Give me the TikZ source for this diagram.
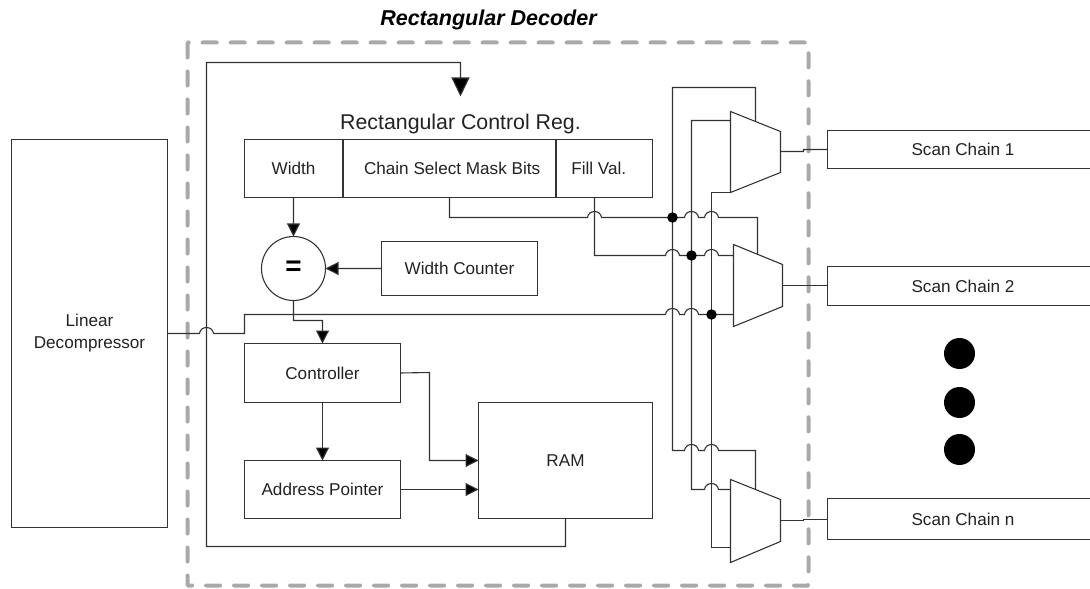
\documentclass[tikz,border=0pt]{standalone}
\usepackage{fontspec}
\setmainfont{Liberation Sans}
\usetikzlibrary{arrows.meta}
\newcommand\bp[2]{-- (#1-7,#2) .. controls (#1-6,#2-8) and (#1+6,#2-8) .. (#1+7,#2)}
\tikzset{
  wire/.style={draw=linec,line width=1.1bp},
  arr/.style={wire,-{Triangle[length=13bp,width=13bp,fill=black]}},
  bigarr/.style={wire,-{Triangle[length=19bp,width=18bp,fill=black]}},
  blk/.style={draw=linec,line width=1.1bp,outer sep=0pt,inner sep=0pt,align=center,anchor=north west,font=\fontsize{17.2}{22}\selectfont,text=textc},
  lbl/.style={inner sep=0pt,align=center,font=\fontsize{17.2}{22}\selectfont,text=textc},
  dot/.style={circle,fill=black,inner sep=0pt,minimum size=10.5bp},
  bigdot/.style={circle,fill=black,inner sep=0pt,minimum size=31bp},
  muxs/.style={draw=linec,line width=1.1bp,line join=miter,fill=white},
}
\definecolor{linec}{HTML}{333333}
\definecolor{textc}{HTML}{222222}
\definecolor{dashc}{HTML}{A9A9A9}
\begin{document}
\begin{tikzpicture}[x=1bp,y=-1bp]
\useasboundingbox (0,0) rectangle (1090,589);
\begin{scope}[shift={(0.5,0.5)}]
% title and frame
\node[lbl,font=\fontsize{21.6}{24}\selectfont\bfseries\itshape,text=black] (title) at (488,19) {Rectangular Decoder};
\draw[dashc,line width=4bp,line cap=round,dash pattern=on 14bp off 14bp,rounded corners=1bp] (187,42) rectangle (808,585);
% boxes
\node[blk,minimum width=156bp,minimum height=388bp] (lin) at (11,139) {Linear\\Decompressor};
\node[lbl,font=\fontsize{21.4}{24}\selectfont] (regt) at (460,123) {Rectangular Control Reg.};
\node[blk,minimum width=98bp,minimum height=58bp] (w) at (244,139) {Width};
\node[blk,minimum width=212bp,minimum height=58bp] (cs) at (342.6,139) {\hspace*{6bp}Chain Select Mask Bits};
\node[blk,minimum width=96.4bp,minimum height=58bp] (fv) at (555.6,139) {Fill Val.\hspace*{11bp}};
\node[circle,draw=linec,line width=1.1bp,outer sep=0pt,minimum size=64bp,inner sep=0pt,font=\fontsize{28}{28}\selectfont\bfseries] (eq) at (293,268) {=};
\node[blk,minimum width=156bp,minimum height=54bp] (wc) at (381,241) {Width Counter};
\node[blk,minimum width=156bp,minimum height=59bp] (ctl) at (244,343) {Controller};
\node[blk,minimum width=156bp,minimum height=58bp] (ap) at (244,460) {Address Pointer};
\node[blk,minimum width=174bp,minimum height=116bp] (ram) at (478,402) {RAM};
\node[blk,minimum width=264bp,minimum height=38bp] (s1) at (827,130) {\hspace*{7bp}Scan Chain 1};
\node[blk,minimum width=264bp,minimum height=39bp] (s2) at (827,266) {\hspace*{7bp}Scan Chain 2};
\node[blk,minimum width=264bp,minimum height=41bp] (sn) at (827,498) {\hspace*{7bp}Scan Chain n};
\node[bigdot] (d1) at (959,353) {};
\node[bigdot] (d2) at (959,402) {};
\node[bigdot] (d3) at (959,449) {};
% mux outlines and their ports
\draw[muxs] (730,111) -- (780,131) -- (780,172) -- (730,192) -- cycle;
\draw[muxs] (733,244) -- (782,264) -- (782,306) -- (733,326) -- cycle;
\draw[muxs] (730,479) -- (780,499) -- (780,541) -- (730,562) -- cycle;
\coordinate (m1a) at (755,121); \coordinate (m1b) at (730,120); \coordinate (m1c) at (730,192); \coordinate (m1o) at (780,151);
\coordinate (m2a) at (757,254); \coordinate (m2b) at (733,255); \coordinate (m2c) at (733,314); \coordinate (m2o) at (782,285);
\coordinate (mna) at (755,489); \coordinate (mnb) at (730,489); \coordinate (mnc) at (730,547); \coordinate (mno) at (780,520);
% arrows between blocks
\draw[bigarr] (ram.south) -- (565,546) -- (206,546) -- (206,62) -- (460,62) -- (460,96);
\draw[arr] (w.south) -- (eq.north);
\draw[arr] (wc.west) -- (eq.east);
\draw[arr] (eq.south) -- (293,320) -- (322,320) -- (ctl.north);
\draw[arr] (ctl.south) -- (ap.north);
\draw[arr] (ctl.east) -- (429,372) -- (429,460) -- (ram.west);
\draw[arr] (ap.east) -- (ram.west|-ap.east);
% three select lines
\draw[wire] (449,197) -- (449,217) \bp{594}{217} -- (672,217) \bp{691}{217} \bp{711}{217} -- (757,217) -- (m2a);
\draw[wire] (594,197) -- (594,255) \bp{672}{255} \bp{711}{255} -- (m2b);
\draw[wire] (lin.east) \bp{206}{333} -- (244,333) -- (244,314) \bp{672}{314} \bp{691}{314} -- (m2c);
% vertical buses
\draw[wire] (m1a) -- (755,87) -- (672,87) -- (672,450) \bp{691}{450} \bp{711}{450} -- (755,450) -- (mna);
\draw[wire] (m1b) -- (691,120) -- (691,489) \bp{711}{489} -- (mnb);
\draw[wire] (m1c) -- (711,192) -- (711,547) -- (mnc);
\node[dot] (j1) at (672,217) {};
\node[dot] (j2) at (691,255) {};
\node[dot] (j3) at (711,314) {};
% outputs
\draw[wire] (m1o) -- (803,151) -- (803,149) -- (s1.west);
\draw[wire] (m2o) -- (s2.west|-m2o);
\draw[wire] (mno) -- (803,520) -- (803,519) -- (sn.west|-0,519);
\end{scope}
\end{tikzpicture}
\end{document}
